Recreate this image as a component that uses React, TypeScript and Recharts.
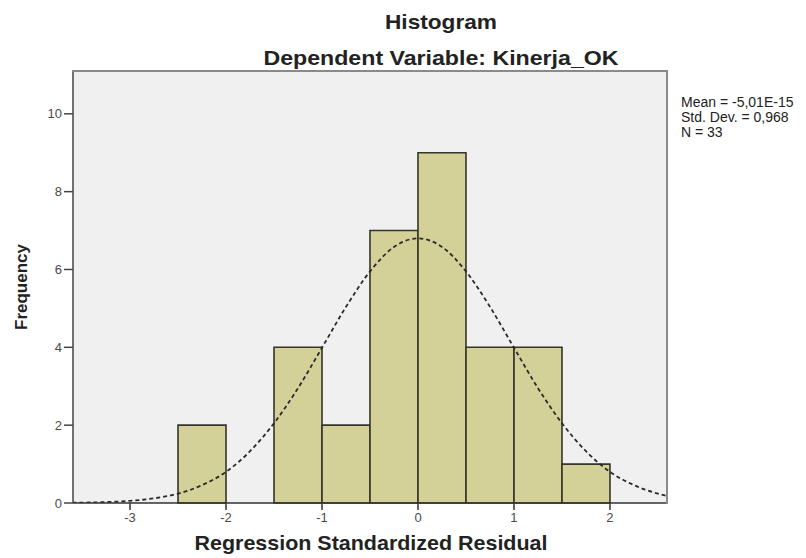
import React from "react";
import {
  ComposedChart,
  Line,
  XAxis,
  YAxis,
  CartesianGrid,
  ReferenceArea,
} from "recharts";

// histogram bins (width 0.5)
const binStart = [-2.5, -2.0, -1.5, -1.0, -0.5, 0.0, 0.5, 1.0, 1.5];
const binCount = [2, 0, 4, 2, 7, 9, 4, 4, 1];

// normal curve
const curveX = [
  -3.6, -3.5, -3.25, -3.0, -2.75, -2.5, -2.25, -2.0, -1.75, -1.5, -1.25, -1.0,
  -0.75, -0.5, -0.25, 0, 0.25, 0.5, 0.75, 1.0, 1.25, 1.5, 1.75, 2.0, 2.25, 2.5,
  2.6,
];
const curveY = [
  0.007, 0.01, 0.024, 0.056, 0.12, 0.24, 0.46, 0.8, 1.33, 2.05, 2.95, 3.99,
  5.04, 5.95, 6.58, 6.8, 6.58, 5.95, 5.04, 3.99, 2.95, 2.05, 1.33, 0.8, 0.46,
  0.24, 0.18,
];

const xTicks = [-3, -2, -1, 0, 1, 2];
const yTicks = [0, 2, 4, 6, 8, 10];

const statLines = ["Mean = -5,01E-15", "Std. Dev. = 0,968", "N = 33"];

const curveData = curveX.map((x, i) => ({ x, y: curveY[i] }));
const bins = binStart
  .map((x, i) => ({ x1: x, x2: x + 0.5, count: binCount[i] }))
  .filter((b) => b.count > 0);

const font = "'Liberation Sans', Arial, sans-serif";

export default function App() {
  return (
    <div
      style={{
        position: "absolute",
        left: 0,
        top: 0,
        width: 806,
        height: 558,
        background: "#fff",
        fontFamily: font,
      }}
    >
      <ComposedChart
        width={806}
        height={558}
        margin={{ top: 71, right: 139, bottom: 25, left: 13 }}
      >
        <CartesianGrid horizontal={false} vertical={false} fill="#f0f0f0" />
        <XAxis
          dataKey="x"
          type="number"
          domain={[-3.594, 2.594]}
          allowDataOverflow
          ticks={xTicks}
          height={30}
          tickSize={7}
          tickMargin={3}
          axisLine={{ stroke: "#333", strokeWidth: 1.5 }}
          tickLine={{ stroke: "#333", strokeWidth: 1.5 }}
          tick={{ fontSize: 13, fill: "#4a4a4a", fontFamily: font }}
        />
        <YAxis
          type="number"
          domain={[0, 11.1]}
          allowDataOverflow
          ticks={yTicks}
          width={60}
          tickSize={9}
          tickMargin={2}
          axisLine={{ stroke: "#444", strokeWidth: 1.5 }}
          tickLine={{ stroke: "#444", strokeWidth: 1.5 }}
          tick={{ fontSize: 13, fill: "#4a4a4a", fontFamily: font }}
        />
        {bins.map((b) => (
          <ReferenceArea
            key={b.x1}
            x1={b.x1}
            x2={b.x2}
            y1={0}
            y2={b.count}
            fill="#d4d198"
            fillOpacity={1}
            stroke="#35352a"
            strokeWidth={1.6}
          />
        ))}
        <Line
          data={curveData}
          dataKey="y"
          type="monotone"
          stroke="#2a2a2a"
          strokeWidth={1.8}
          strokeDasharray="4 3"
          dot={false}
          isAnimationActive={false}
        />
      </ComposedChart>
      <div
        style={{
          position: "absolute",
          left: 72,
          top: 70,
          width: 596,
          height: 434,
          boxSizing: "border-box",
          borderTop: "2px solid #8a8a8a",
          borderRight: "2px solid #8a8a8a",
          pointerEvents: "none",
        }}
      />
      <svg
        width={806}
        height={558}
        style={{ position: "absolute", left: 0, top: 0, pointerEvents: "none" }}
      >
        <g fontFamily={font} fill="#222">
          <text
            x={441}
            y={29}
            textAnchor="middle"
            fontSize={21}
            fontWeight="bold"
            textLength={112}
            lengthAdjust="spacingAndGlyphs"
          >
            Histogram
          </text>
          <text
            x={441}
            y={65}
            textAnchor="middle"
            fontSize={21}
            fontWeight="bold"
            textLength={355}
            lengthAdjust="spacingAndGlyphs"
          >
            Dependent Variable: Kinerja_OK
          </text>
          <text
            x={371}
            y={550}
            textAnchor="middle"
            fontSize={21}
            fontWeight="bold"
            textLength={353}
            lengthAdjust="spacingAndGlyphs"
          >
            Regression Standardized Residual
          </text>
          <text
            x={27}
            y={287}
            textAnchor="middle"
            fontSize={17}
            fontWeight="bold"
            transform="rotate(-90, 27, 287)"
          >
            Frequency
          </text>
          {statLines.map((s, i) => (
            <text key={s} x={681} y={107 + i * 15} fontSize={14}>
              {s}
            </text>
          ))}
        </g>
      </svg>
    </div>
  );
}
